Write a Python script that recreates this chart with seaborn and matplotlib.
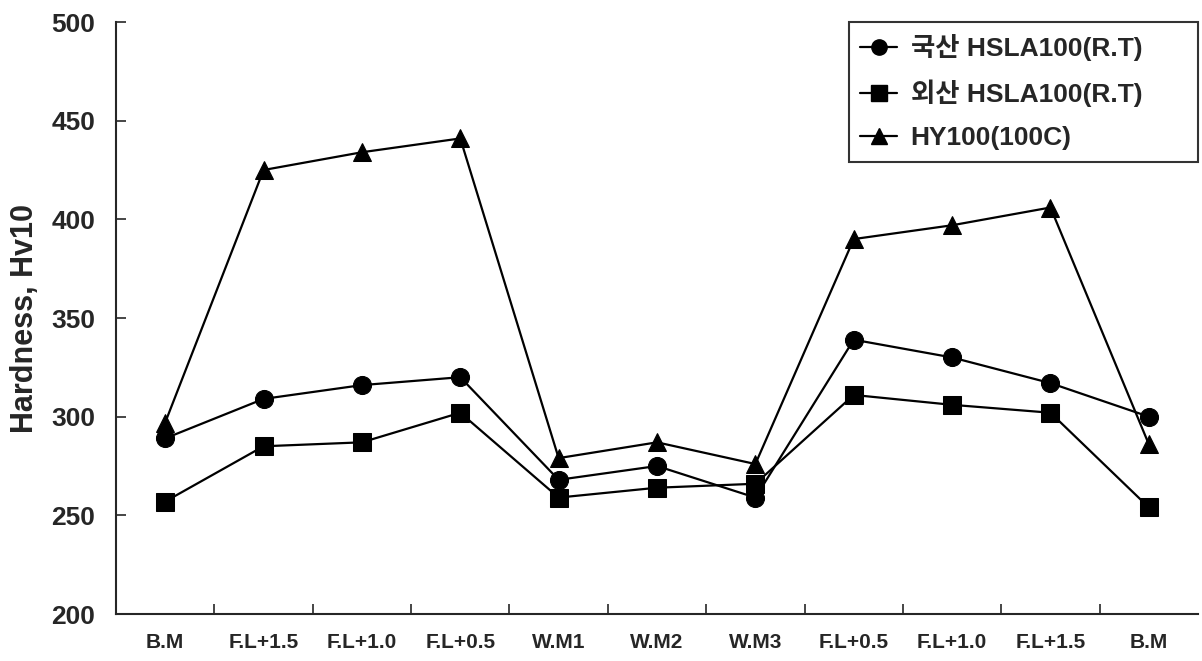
import pandas as pd
import matplotlib
matplotlib.use('Agg')
import matplotlib.pyplot as plt
import seaborn as sns
from matplotlib.lines import Line2D

# Data
positions = ['B.M', 'F.L+1.5', 'F.L+1.0', 'F.L+0.5', 'W.M1', 'W.M2', 'W.M3',
             'F.L+0.5', 'F.L+1.0', 'F.L+1.5', 'B.M']
domestic_hsla = [289, 309, 316, 320, 268, 275, 259, 339, 330, 317, 300]
foreign_hsla = [257, 285, 287, 302, 259, 264, 266, 311, 306, 302, 254]
hy100 = [297, 425, 434, 441, 279, 287, 276, 390, 397, 406, 286]

series_names = ['국산 HSLA100(R.T)', '외산 HSLA100(R.T)', 'HY100(100C)']
series_markers = ['o', 's', '^']

rows = []
for name, values in zip(series_names, [domestic_hsla, foreign_hsla, hy100]):
    for i, v in enumerate(values):
        rows.append({'pos': i, 'hardness': v, 'series': name})
df = pd.DataFrame(rows)

sns.set_style('ticks')
plt.rcParams['font.family'] = ['Liberation Sans', 'Noto Sans CJK KR']
plt.rcParams['font.weight'] = 'bold'

fig = plt.figure(figsize=(12.02, 6.61), dpi=100)
ax = fig.add_axes([0.0965, 0.0711, 0.9002, 0.8956])

sns.lineplot(data=df, x='pos', y='hardness', hue='series', style='series',
             palette=['black'] * 3, markers=dict(zip(series_names, series_markers)),
             dashes=False, markersize=13, linewidth=1.6, markeredgecolor='black',
             legend=False, ax=ax)

ax.set_xlim(-0.5, len(positions) - 0.5)
ax.set_ylim(200, 500)
ax.set_yticks(range(200, 501, 50))
ax.set_xticks(range(len(positions)))
ax.set_xticklabels(positions)
ax.set_xticks([i + 0.5 for i in range(len(positions) - 1)], minor=True)
ax.tick_params(axis='x', which='major', length=0, pad=14, labelsize=15)
ax.tick_params(axis='x', which='minor', direction='in', length=7, width=1.2)
ax.tick_params(axis='y', direction='in', length=7, width=1.2, pad=15, labelsize=19)
for lbl in ax.get_xticklabels() + ax.get_yticklabels():
    lbl.set_fontweight('bold')

ax.set_xlabel('')
ax.set_ylabel('Hardness, Hv10', fontsize=22, fontweight='bold', labelpad=8)

sns.despine(ax=ax)
ax.spines['left'].set_linewidth(1.5)
ax.spines['bottom'].set_linewidth(1.5)

handles = [Line2D([0], [0], color='black', marker=m, markersize=11, linewidth=1.6)
           for m in series_markers]
leg = ax.legend(handles, series_names, loc='upper right',
                bbox_to_anchor=(0.677, 0.0, 0.323, 1.0), mode='expand',
                borderaxespad=0, frameon=True, fancybox=False, handlelength=1.4,
                handletextpad=0.5, labelspacing=0.72, borderpad=0.45,
                prop={'size': 19, 'weight': 'bold'})
leg.get_frame().set_edgecolor('black')
leg.get_frame().set_linewidth(1.5)

fig.savefig('out.png', dpi=100)
